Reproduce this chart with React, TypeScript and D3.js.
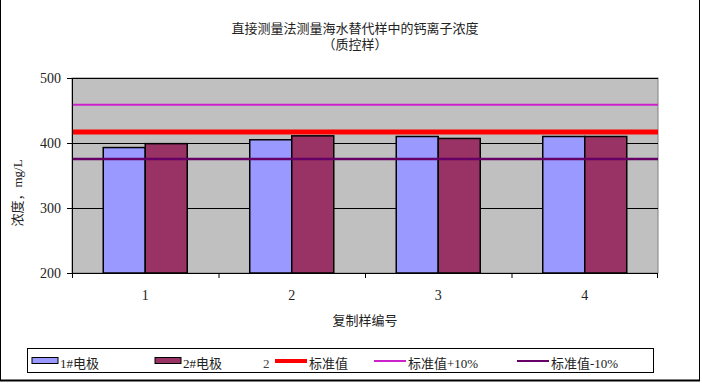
import React from "react";
import * as d3 from "d3";

const categories = ["1", "2", "3", "4"];
const seriesNames = ["1#电极", "2#电极"];
const series1 = [393, 405, 410, 410];
const series2 = [399, 411, 407, 410];
const standardValue = 417;
const refLines = [
  { name: "标准值", value: standardValue },
  { name: "标准值+10%", value: standardValue * 1.1 },
  { name: "标准值-10%", value: standardValue * 0.9 },
];
const yTicks = [200, 300, 400, 500];
const titleLines = ["直接测量法测量海水替代样中的钙离子浓度", "（质控样）"];
const xTitle = "复制样编号";
const yTitle = "浓度，mg/L";

const W = 702;
const H = 383;
const FONT = "'Liberation Serif', 'Noto Sans CJK SC', serif";
const barColors = ["#9999FF", "#993366"];
const lineColors = ["#FF0000", "#CC22CC", "#660066"];
const lineWidths = [5, 2, 2.5];

export default function App() {
  const plot = { left: 72, right: 658, top: 78, bottom: 273 };
  const x = d3
    .scaleBand<string>()
    .domain(categories)
    .range([plot.left, plot.right])
    .paddingInner(0.4266)
    .paddingOuter(0.2133);
  const xs = d3.scaleBand<number>().domain([0, 1]).range([0, x.bandwidth()]).padding(0);
  const y = d3.scaleLinear().domain([200, 500]).range([plot.bottom, plot.top]);
  const values = [series1, series2];
  const step = x.step();

  return (
    <svg
      width={W}
      height={H}
      style={{ position: "absolute", left: 0, top: 0, background: "#fff" }}
      fontFamily={FONT}
    >
      {/* outer border */}
      <line x1={0.5} y1={0} x2={0.5} y2={381} stroke="#000" strokeWidth={1} />
      <line x1={699.5} y1={0} x2={699.5} y2={381} stroke="#000" strokeWidth={1} />
      <line x1={0} y1={380.5} x2={700} y2={380.5} stroke="#000" strokeWidth={2} />

      {/* title */}
      {titleLines.map((t, i) => (
        <text key={i} x={355} y={33 + i * 16} textAnchor="middle" fontSize={13} fill="#222">
          {t}
        </text>
      ))}

      {/* plot area */}
      <rect
        x={plot.left}
        y={plot.top}
        width={plot.right - plot.left}
        height={plot.bottom - plot.top}
        fill="#C0C0C0"
        stroke="#808080"
        strokeWidth={1}
      />
      {/* gridlines */}
      {yTicks.slice(1).map((t) => (
        <line key={t} x1={plot.left} x2={plot.right} y1={y(t) + 0.5} y2={y(t) + 0.5} stroke="#000" strokeWidth={1} />
      ))}

      {/* bars */}
      {categories.map((c, i) =>
        values.map((v, s) => (
          <rect
            key={c + s}
            x={(x(c) as number) + (xs(s) as number)}
            y={y(v[i])}
            width={xs.bandwidth()}
            height={y(200) - y(v[i])}
            fill={barColors[s]}
            stroke="#000"
            strokeWidth={1.5}
          />
        ))
      )}

      {/* reference lines */}
      {refLines.map((r, i) => (
        <line
          key={r.name}
          x1={plot.left}
          x2={plot.right}
          y1={y(r.value)}
          y2={y(r.value)}
          stroke={lineColors[i]}
          strokeWidth={lineWidths[i]}
        />
      ))}

      {/* axes */}
      <line x1={plot.left + 0.5} x2={plot.left + 0.5} y1={plot.top} y2={plot.bottom} stroke="#000" />
      <line x1={plot.left} x2={plot.right} y1={plot.bottom + 0.5} y2={plot.bottom + 0.5} stroke="#000" />
      {yTicks.map((t) => (
        <g key={t}>
          <line x1={plot.left - 5} x2={plot.left} y1={y(t) + 0.5} y2={y(t) + 0.5} stroke="#000" />
          <text x={plot.left - 11} y={y(t) + 5} textAnchor="end" fontSize={14} fill="#222">
            {t}
          </text>
        </g>
      ))}
      {categories.map((c, i) => (
        <line
          key={"t" + c}
          x1={plot.left + i * step + 0.5}
          x2={plot.left + i * step + 0.5}
          y1={plot.bottom}
          y2={plot.bottom + 5}
          stroke="#000"
        />
      ))}
      <line x1={plot.right - 0.5} x2={plot.right - 0.5} y1={plot.bottom} y2={plot.bottom + 5} stroke="#000" />
      {categories.map((c) => (
        <text
          key={"l" + c}
          x={(x(c) as number) + x.bandwidth() / 2}
          y={300}
          textAnchor="middle"
          fontSize={14}
          fill="#222"
        >
          {c}
        </text>
      ))}
      <text x={365} y={325} textAnchor="middle" fontSize={13} fill="#222">
        {xTitle}
      </text>
      <text
        transform={`translate(22,193) rotate(-90)`}
        textAnchor="middle"
        fontSize={13}
        fill="#222"
      >
        {yTitle}
      </text>

      {/* legend */}
      <rect x={27.5} y={348.5} width={626} height={24} fill="#fff" stroke="#000" strokeWidth={1} />
      {seriesNames.map((n, i) => {
        const lx = [32, 155][i];
        return (
          <g key={n}>
            <rect x={lx} y={357.5} width={26} height={6} fill={barColors[i]} stroke="#000" strokeWidth={1} />
            <text x={lx + 28} y={367.5} fontSize={13} fill="#222">
              {n}
            </text>
          </g>
        );
      })}
      <text x={263} y={367.5} fontSize={13} fill="#444">
        2
      </text>
      {refLines.map((r, i) => {
        const lx = [275, 374, 517][i];
        return (
          <g key={"lg" + r.name}>
            <line x1={lx} x2={lx + 32} y1={361} y2={361} stroke={lineColors[i]} strokeWidth={i === 0 ? 4 : 2} />
            <text x={lx + 34} y={367.5} fontSize={13} fill="#222">
              {r.name}
            </text>
          </g>
        );
      })}
    </svg>
  );
}
